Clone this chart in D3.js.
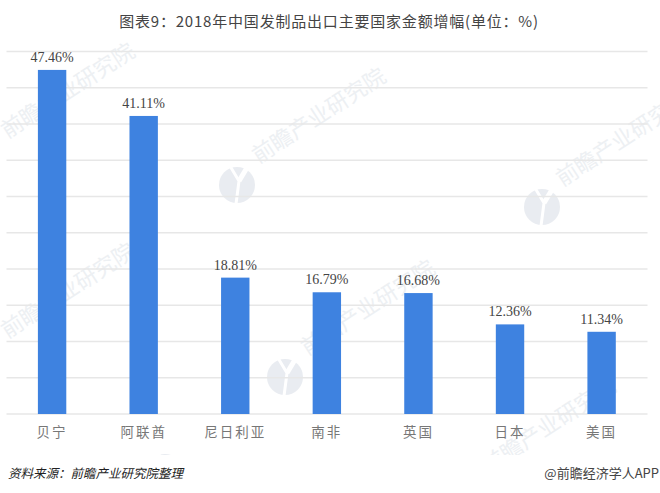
<!DOCTYPE html>
<html><head><meta charset="utf-8">
<script src="https://cdnjs.cloudflare.com/ajax/libs/d3/7.8.5/d3.min.js"></script>
<style>html,body{margin:0;padding:0;background:#fff}svg{display:block}</style></head>
<body><svg id="c" width="660" height="493"></svg>
<script>
const categories=["贝宁","阿联酋","尼日利亚","南非","英国","日本","美国"];
const values=[47.46,41.11,18.81,16.79,16.68,12.36,11.34];
const yTicks=[0,5,10,15,20,25,30,35,40,45,50];
const titleText="图表9：2018年中国发制品出口主要国家金额增幅(单位：%)";
const sourceText="资料来源：前瞻产业研究院整理";
const creditText="@前瞻经济学人APP";
const watermarks=[[72,97],[72,297],[323,122],[372,314],[627,145],[553,432]];
const logos=[[237,185],[285,377],[542,207],[165,472]];

const svg=d3.select("#c");
const cjk="'Noto Sans CJK SC','Noto Sans',sans-serif";
const x=d3.scaleBand().domain(categories).range([6.3,647.4]).paddingInner(0.69).paddingOuter(0.345);
const y=d3.scaleLinear().domain([0,50]).range([414,51.5]);

svg.append("defs").append("clipPath").attr("id","wm").append("rect")
  .attr("x",0).attr("y",0).attr("width",660).attr("height",455);
const wm=svg.append("g").attr("clip-path","url(#wm)");
wm.selectAll("text").data(watermarks).join("text")
  .attr("transform",d=>`translate(${d[0]},${d[1]}) rotate(-33)`)
  .attr("text-anchor","middle").attr("font-family",cjk).attr("font-size",22)
  .attr("fill","#edf0f3").text("前瞻产业研究院");
const lg=wm.selectAll("g").data(logos).join("g").attr("transform",d=>`translate(${d[0]},${d[1]})`);
lg.append("circle").attr("r",18).attr("fill","#e9ecf1");
lg.append("path").attr("d",d3.line()([[-7,-19],[2,-4],[-1,19]])).attr("fill","none").attr("stroke","#fff").attr("stroke-width",3);
lg.append("path").attr("d",d3.line()([[2,-4],[11,-19]])).attr("fill","none").attr("stroke","#fff").attr("stroke-width",5);

svg.append("g").selectAll("line").data(yTicks).join("line")
  .attr("x1",6.5).attr("x2",647.5).attr("y1",d=>y(d)).attr("y2",d=>y(d))
  .attr("stroke","#e7e7e7").attr("stroke-width",1.3);

svg.append("g").selectAll("rect").data(values).join("rect")
  .attr("x",(d,i)=>x(categories[i])).attr("width",x.bandwidth())
  .attr("y",d=>y(d)).attr("height",d=>y(0)-y(d)).attr("fill","#3e82e0");

svg.append("g").selectAll("text").data(values).join("text")
  .attr("x",(d,i)=>x(categories[i])+x.bandwidth()/2).attr("y",d=>y(d)-8)
  .attr("text-anchor","middle").attr("font-family","'Liberation Serif',serif")
  .attr("font-size",14).attr("fill","#444").text(d=>d.toFixed(2)+"%");

const xAxis=d3.axisBottom(x).tickSize(0).tickPadding(13);
const ax=svg.append("g").attr("transform","translate(0,414)").call(xAxis);
ax.select(".domain").remove();
ax.selectAll("text").attr("font-family",cjk).attr("font-size",13.5).attr("fill","#777").attr("letter-spacing","2px");

svg.append("text").attr("x",329).attr("y",27).attr("text-anchor","middle")
  .attr("font-family",cjk).attr("font-size",15).attr("letter-spacing","0.8px").attr("fill","#444").text(titleText);
svg.append("text").attr("x",8).attr("y",478).attr("font-family",cjk).attr("font-style","italic")
  .attr("font-size",12.5).attr("fill","#222").text(sourceText);
svg.append("text").attr("x",659).attr("y",478).attr("text-anchor","end").attr("font-family",cjk)
  .attr("font-size",13).attr("fill","#444").text(creditText);
</script></body></html>
